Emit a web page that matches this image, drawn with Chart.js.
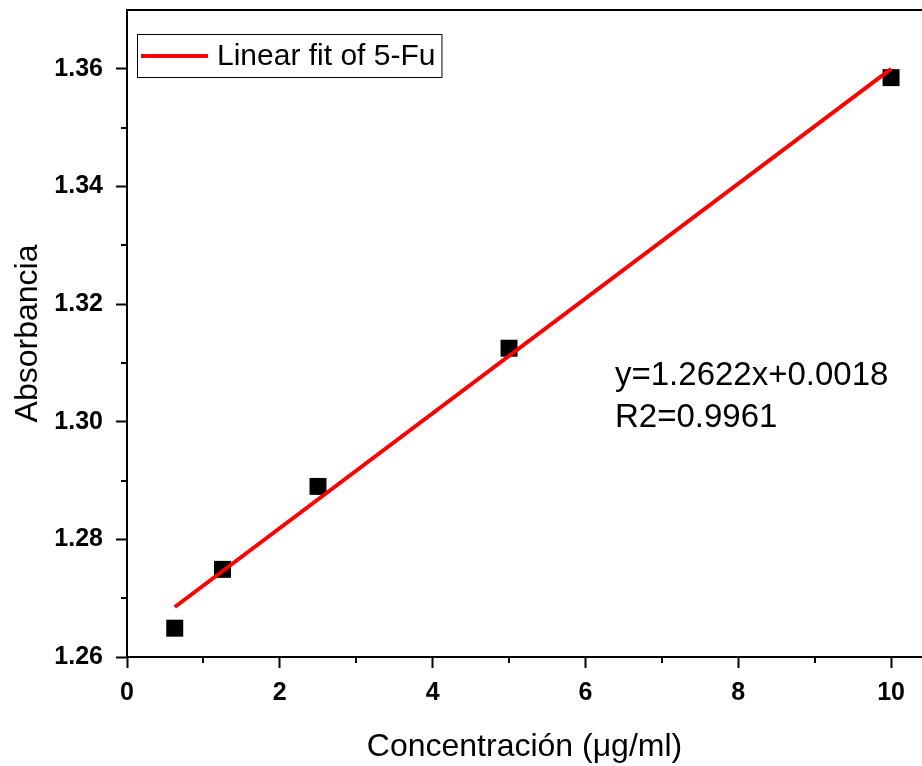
<!DOCTYPE html>
<html>
<head>
<meta charset="utf-8">
<title>Curva de calibración 5-Fu</title>
<script src="https://cdn.jsdelivr.net/npm/chart.js@4.4.1/dist/chart.umd.min.js"></script>
<style>
    body { margin: 0; background: #fff; }
    canvas { display: block; }
</style>
</head>
<body>
<canvas id="calChart" width="922" height="766"></canvas>
<script>
// Values
const concentrations = [0.625, 1.25, 2.5, 5, 10];
const absorbances = [1.2649, 1.2749, 1.2890, 1.3125, 1.3585];
const fitX = [0.625, 10];
const fitY = [1.2685, 1.3600];
const xTicks = [0, 2, 4, 6, 8, 10];
const xMinorTicks = [1, 3, 5, 7, 9];
const yTicks = [1.26, 1.28, 1.30, 1.32, 1.34, 1.36];
const yMinorTicks = [1.27, 1.29, 1.31, 1.33, 1.35];
const fitLabel = 'Linear fit of 5-Fu';
const equationLines = ['y=1.2622x+0.0018', 'R2=0.9961'];

const FONT = "'Liberation Sans', Arial, sans-serif";

// Top frame line + minor ticks (Origin style)
const frameAndMinor = {
    id: 'frameAndMinor',
    afterDraw(chart) {
        const { ctx, chartArea, scales } = chart;
        ctx.save();
        ctx.strokeStyle = '#000';
        ctx.lineWidth = 2;
        ctx.beginPath();
        ctx.moveTo(chartArea.left, chartArea.top);
        ctx.lineTo(chart.width, chartArea.top);
        // minor ticks on x
        xMinorTicks.forEach(v => {
            const px = Math.round(scales.x.getPixelForValue(v));
            ctx.moveTo(px, chartArea.bottom);
            ctx.lineTo(px, chartArea.bottom + 6);
        });
        // minor ticks on y
        yMinorTicks.forEach(v => {
            const py = Math.round(scales.y.getPixelForValue(v));
            ctx.moveTo(chartArea.left, py);
            ctx.lineTo(chartArea.left - 6, py);
        });
        ctx.stroke();
        ctx.restore();
    }
};

// Boxed legend inside the plot + equation text
const boxLegend = {
    id: 'boxLegend',
    afterDraw(chart) {
        const { ctx, chartArea } = chart;
        const ds = chart.data.datasets[0];
        ctx.save();
        ctx.font = '30px ' + FONT;
        const tw = ctx.measureText(ds.label).width;
        const bx = chartArea.left + 10, by = chartArea.top + 24;
        const bw = 80 + tw + 6, bh = 43;
        ctx.strokeStyle = '#000';
        ctx.lineWidth = 1;
        ctx.strokeRect(bx + 0.5, by + 0.5, bw, bh);
        ctx.strokeStyle = ds.borderColor;
        ctx.lineWidth = 4;
        ctx.beginPath();
        ctx.moveTo(bx + 4, by + 22);
        ctx.lineTo(bx + 71, by + 22);
        ctx.stroke();
        ctx.fillStyle = '#000';
        ctx.textBaseline = 'middle';
        ctx.fillText(ds.label, bx + 80, by + 23);

        // fit equation
        ctx.font = '33px ' + FONT;
        ctx.textBaseline = 'alphabetic';
        equationLines.forEach((line, i) => {
            ctx.fillText(line, chartArea.left + 488, chartArea.top + 375 + i * 42);
        });
        ctx.restore();
    }
};

const ctx = document.getElementById('calChart').getContext('2d');
new Chart(ctx, {
    type: 'scatter',
    data: {
        datasets: [{
            label: fitLabel,
            data: fitX.map((x, i) => ({ x: x, y: fitY[i] })),
            showLine: true,
            borderColor: '#ff0000',
            borderWidth: 4,
            pointRadius: 0,
            order: 0
        }, {
            label: '5-Fu',
            data: concentrations.map((x, i) => ({ x: x, y: absorbances[i] })),
            pointStyle: 'rect',
            pointRadius: 12,
            borderWidth: 0,
            backgroundColor: '#000',
            borderColor: '#000',
            order: 1
        }]
    },
    options: {
        responsive: false,
        animation: false,
        events: [],
        layout: { autoPadding: false, padding: { top: 10, right: 0, left: 0, bottom: 0 } },
        plugins: {
            legend: { display: false },
            tooltip: { enabled: false }
        },
        scales: {
            x: {
                type: 'linear',
                min: 0,
                max: 10.405,
                afterBuildTicks: s => { s.ticks = xTicks.map(v => ({ value: v })); },
                afterFit: s => { s.height = 109; s.paddingLeft = 0; s.paddingRight = 0; },
                border: { color: '#000', width: 2 },
                grid: { drawOnChartArea: false, tickLength: 11, tickWidth: 2, tickColor: '#000' },
                ticks: {
                    color: '#000',
                    padding: 10,
                    font: { family: FONT, size: 25, weight: 'bold' }
                },
                title: {
                    display: true,
                    text: 'Concentración (μg/ml)',
                    color: '#000',
                    padding: 0,
                    font: { family: FONT, size: 32 }
                }
            },
            y: {
                type: 'linear',
                min: 1.26,
                max: 1.37,
                afterBuildTicks: s => { s.ticks = yTicks.map(v => ({ value: v })); },
                afterFit: s => { s.width = 127; s.paddingTop = 0; s.paddingBottom = 0; },
                border: { color: '#000', width: 2 },
                grid: { drawOnChartArea: false, tickLength: 11, tickWidth: 2, tickColor: '#000' },
                ticks: {
                    color: '#000',
                    padding: 13,
                    font: { family: FONT, size: 25, weight: 'bold' },
                    callback: v => v.toFixed(2)
                },
                title: {
                    display: true,
                    text: 'Absorbancia',
                    color: '#000',
                    padding: 9,
                    font: { family: FONT, size: 32 }
                }
            }
        }
    },
    plugins: [frameAndMinor, boxLegend]
});
</script>
</body>
</html>
